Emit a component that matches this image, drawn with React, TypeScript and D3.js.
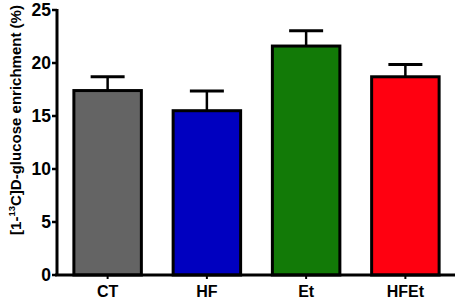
import React from "react";
import * as d3 from "d3";

const categories = ["CT", "HF", "Et", "HFEt"];
const means = [17.4, 15.5, 21.6, 18.7];
const errors = [1.3, 1.85, 1.45, 1.15];
const colors = ["#646464", "#0000c0", "#127a07", "#ff0010"];
const yTicks = [0, 5, 10, 15, 20, 25];

export default function App() {
  const width = 459;
  const height = 301;
  const x0 = 57;
  const xEnd = 455;
  const yTop = 10;
  const yBottom = 275;
  const y = d3.scaleLinear().domain([0, 25]).range([yBottom, yTop]);
  const x = d3.scaleBand().domain(categories).range([x0 + 1, xEnd]).paddingInner(0.32).paddingOuter(0.16);
  const font = "'Liberation Sans', Arial, sans-serif";
  return (
    <svg width={width} height={height} style={{ position: "absolute", left: 0, top: 0 }}>
      <g fontFamily={font} fontWeight="bold" fill="#000">
        {categories.map((c, i) => {
          const bx = x(c)!;
          const bw = x.bandwidth();
          const cx = bx + bw / 2;
          return (
            <g key={c}>
              <line x1={cx} x2={cx} y1={y(means[i])} y2={y(means[i] + errors[i])} stroke="#000" strokeWidth={2.5} />
              <line x1={cx - 17} x2={cx + 17} y1={y(means[i] + errors[i])} y2={y(means[i] + errors[i])} stroke="#000" strokeWidth={3} />
              <rect x={bx} y={y(means[i])} width={bw} height={y(0) - y(means[i])} fill={colors[i]} stroke="#000" strokeWidth={3} />
              <line x1={cx} x2={cx} y1={yBottom} y2={yBottom + 4} stroke="#000" strokeWidth={2} />
              <text x={cx} y={yBottom + 22} textAnchor="middle" fontSize={16}>{c}</text>
            </g>
          );
        })}
        <line x1={x0} x2={x0} y1={yTop - 1} y2={yBottom + 1} stroke="#000" strokeWidth={3} />
        <line x1={x0 - 2} x2={xEnd} y1={yBottom} y2={yBottom} stroke="#000" strokeWidth={3} />
        {yTicks.map((t) => (
          <g key={t}>
            <line x1={x0 - 5} x2={x0} y1={y(t)} y2={y(t)} stroke="#000" strokeWidth={2.5} />
            <text x={x0 - 6} y={y(t) + 6} textAnchor="end" fontSize={17.5}>{t}</text>
          </g>
        ))}
        <text transform={`translate(21,120) rotate(-90)`} textAnchor="middle" fontSize={15}>
          [1-<tspan dy={-6} fontSize={9.5}>13</tspan><tspan dy={6}>C]D-glucose enrichment (%)</tspan>
        </text>
      </g>
    </svg>
  );
}
